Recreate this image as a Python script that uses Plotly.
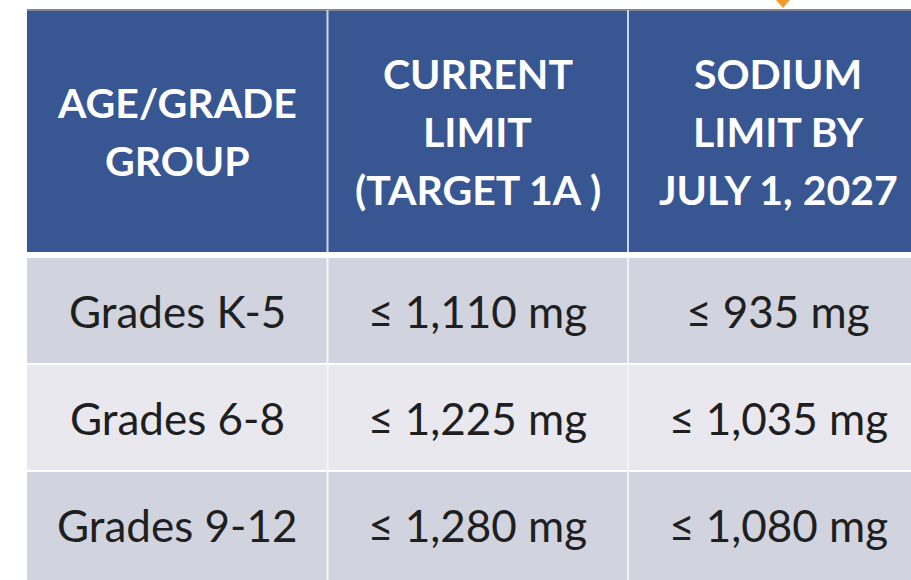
import plotly.graph_objects as go

# ---- data ----
header_lines = [
    ["AGE/GRADE", "GROUP"],
    ["CURRENT", "LIMIT", "(TARGET 1A )"],
    ["SODIUM", "LIMIT BY", "JULY 1, 2027"],
]
groups = ["Grades K-5", "Grades 6-8", "Grades 9-12"]
current_limit = ["≤ 1,110 mg", "≤ 1,225 mg", "≤ 1,280 mg"]
limit_2027 = ["≤ 935 mg", "≤ 1,035 mg", "≤ 1,080 mg"]

# ---- style / layout constants ----
W, H = 911, 580
TABLE_LEFT = 27
COL_W = 300.5
HEADER_TOP = 10
HEADER_BOTTOM = 252
BODY_TOP = 258
ROW_H = 105
HEADER_LINE_GAP = 58
HEADER_BG = "#375692"
ROW_BG = ["#d1d3de", "#e9e8ef", "#d1d3de"]
BODY_TEXT = "#1f1f1f"
HEAD_FONT = dict(family="Lato", size=41, color="white")
BODY_FONT = dict(family="Lato", size=44, color=BODY_TEXT)

columns = [groups, current_limit, limit_2027]
n_cols = len(columns)
n_rows = len(groups)

fig = go.Figure()
shapes = []
annotations = []

def col_x0(c):
    return TABLE_LEFT + c * COL_W

# header background
shapes.append(dict(type="rect", xref="x", yref="y", x0=TABLE_LEFT, x1=col_x0(n_cols),
                   y0=HEADER_TOP, y1=HEADER_BOTTOM, fillcolor=HEADER_BG, line_width=0, layer="below"))
# header top shadow
shapes.append(dict(type="line", xref="x", yref="y", x0=TABLE_LEFT, x1=col_x0(n_cols),
                   y0=HEADER_TOP, y1=HEADER_TOP, line=dict(color="#7d869a", width=2)))

# body rows
for r in range(n_rows):
    y0 = BODY_TOP + r * (ROW_H + 2)
    y1 = y0 + ROW_H if r < n_rows - 1 else H + 5
    shapes.append(dict(type="rect", xref="x", yref="y", x0=TABLE_LEFT, x1=col_x0(n_cols),
                       y0=y0, y1=y1, fillcolor=ROW_BG[r], line_width=0, layer="below"))

# column separators
for c in range(1, n_cols):
    x = col_x0(c)
    shapes.append(dict(type="line", xref="x", yref="y", x0=x, x1=x, y0=HEADER_TOP, y1=HEADER_BOTTOM,
                       line=dict(color="#c9d4ea", width=2)))
    shapes.append(dict(type="line", xref="x", yref="y", x0=x, x1=x, y0=BODY_TOP, y1=H + 5,
                       line=dict(color="#f4f4f8", width=2)))

# small orange marker at top
shapes.append(dict(type="path", xref="x", yref="y",
                   path="M 776 0 L 790 0 L 783 8 Z", fillcolor="#f29a2e", line_width=0))

# header text
hc = (HEADER_TOP + HEADER_BOTTOM) / 2
for c, lines in enumerate(header_lines):
    n = len(lines)
    for i, t in enumerate(lines):
        y = hc + (i - (n - 1) / 2) * HEADER_LINE_GAP
        annotations.append(dict(x=col_x0(c) + COL_W / 2, y=y, xref="x", yref="y", text=f"<b>{t}</b>",
                                showarrow=False, font=HEAD_FONT, xanchor="center", yanchor="middle"))

# body text
for c in range(n_cols):
    for r in range(n_rows):
        y0 = BODY_TOP + r * (ROW_H + 2)
        annotations.append(dict(x=col_x0(c) + COL_W / 2, y=y0 + ROW_H / 2, xref="x", yref="y",
                                text=columns[c][r], showarrow=False, font=BODY_FONT,
                                xanchor="center", yanchor="middle"))

fig.update_layout(
    width=W, height=H, margin=dict(l=0, r=0, t=0, b=0),
    paper_bgcolor="white", plot_bgcolor="white",
    shapes=shapes, annotations=annotations, showlegend=False,
    xaxis=dict(range=[0, W], visible=False, fixedrange=True),
    yaxis=dict(range=[H, 0], visible=False, fixedrange=True),
)
fig.write_html("out.html", config={"displayModeBar": False},
               post_script="document.body.style.margin='0';document.body.style.overflow='hidden';")
